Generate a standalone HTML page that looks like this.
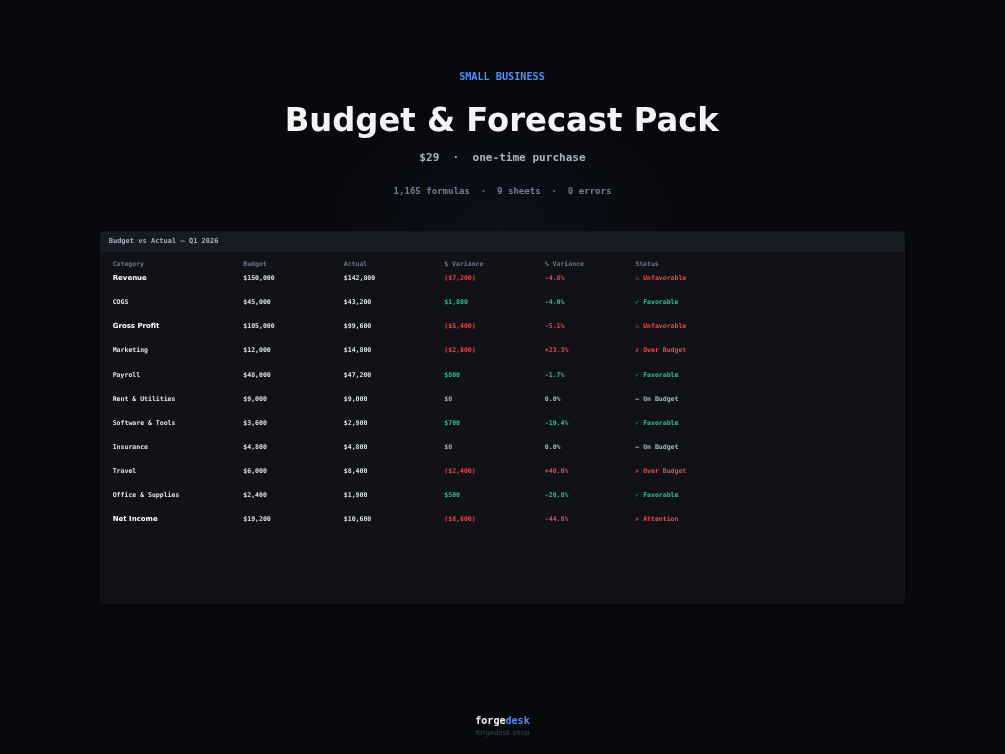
<!DOCTYPE html>
<html lang="en"><head><meta charset="utf-8"><title>Budget &amp; Forecast Pack</title>
<style>
*{margin:0;padding:0;box-sizing:border-box}
html,body{width:1005px;height:754px;overflow:hidden;background:#08090d}
body{position:relative;font-family:"DejaVu Sans Mono","Liberation Mono",monospace;color:#e5e7eb;
 background:radial-gradient(ellipse 180px 125px at 502px 226px,rgba(59,130,246,.06),rgba(59,130,246,0) 100%),#08090d}
.t{position:absolute;white-space:pre;line-height:1;transform:translateY(-50%)}
.c{position:absolute;left:0;width:1005px;text-align:center;white-space:pre;line-height:1;transform:translateY(-50%)}
.eyebrow{top:77.2px;left:-0.5px;font-size:10.18px;font-weight:700;color:#4f8ff7}
h1.c{top:120.3px;transform:translateY(-50%) scaleY(1.02);text-rendering:geometricPrecision;left:-0.8px;font-family:"DejaVu Sans","Liberation Sans",sans-serif;font-weight:700;font-size:32.25px;color:#f4f4f6;letter-spacing:0}
.sub{top:158.2px;font-size:11.05px;font-weight:700;color:#aab3c5}
.stats{top:192.2px;font-size:9.05px;font-weight:700;color:#717d98}
.card{position:absolute;left:100px;top:230.5px;width:805px;height:373.5px;background:#111217;border:1px solid #16181e;border-radius:5px}
.bar{position:absolute;left:0;top:0;right:0;height:20.3px;background:#191b24}
.hd{font-size:7.03px;font-weight:700;color:#a3adc1;left:108.7px;top:240.5px}
.th{font-size:6.5px;font-weight:700;color:#6a758f}
.td{font-size:6.52px;color:#dfe3ea;font-weight:700}
.b{font-family:"DejaVu Sans","Liberation Sans",sans-serif;font-weight:700;font-size:7.0px;color:#fff}
.r{color:#ea4a4b}.g{color:#2fc18c}.n{color:#a9b3c6}
.ln{position:absolute;left:108.5px;width:789px;height:1px;background:#14161b}
.brand{top:720.5px;font-size:10.05px;font-weight:700;color:#f4f4f6}
.brand b{color:#4f8ff7}
.url{top:733.4px;font-family:"DejaVu Sans","Liberation Sans",sans-serif;font-size:7.0px;color:#3b4456}
</style></head><body>
<div class="c eyebrow">SMALL BUSINESS</div>
<h1 class="c">Budget &amp; Forecast Pack</h1>
<div class="c sub">$29  ·  one-time purchase</div>
<div class="c stats">1,165 formulas  ·  9 sheets  ·  0 errors</div>
<div class="card"><div class="bar"></div></div>
<div class="t hd">Budget vs Actual — Q1 2026</div>

<div class="t th" style="left:112.7px;top:263.6px">Category</div>
<div class="t th" style="left:243.3px;top:263.6px">Budget</div>
<div class="t th" style="left:343.8px;top:263.6px">Actual</div>
<div class="t th" style="left:444.3px;top:263.6px">$ Variance</div>
<div class="t th" style="left:544.8px;top:263.6px">% Variance</div>
<div class="t th" style="left:635.3px;top:263.6px">Status</div>
<div class="t td b" style="left:112.7px;top:277.6px">Revenue</div>
<div class="t td" style="left:243.3px;top:277.6px">$150,000</div>
<div class="t td" style="left:343.8px;top:277.6px">$142,800</div>
<div class="t td r" style="left:444.3px;top:277.6px">($7,200)</div>
<div class="t td r" style="left:544.8px;top:277.6px">-4.8%</div>
<div class="t td r" style="left:635.3px;top:277.6px">⚠ Unfavorable</div>
<div class="ln" style="top:293.0px"></div>
<div class="t td" style="left:112.7px;top:301.74px">COGS</div>
<div class="t td" style="left:243.3px;top:301.74px">$45,000</div>
<div class="t td" style="left:343.8px;top:301.74px">$43,200</div>
<div class="t td g" style="left:444.3px;top:301.74px">$1,800</div>
<div class="t td g" style="left:544.8px;top:301.74px">-4.0%</div>
<div class="t td g" style="left:635.3px;top:301.74px">✓ Favorable</div>
<div class="t td b" style="left:112.7px;top:325.88px">Gross Profit</div>
<div class="t td" style="left:243.3px;top:325.88px">$105,000</div>
<div class="t td" style="left:343.8px;top:325.88px">$99,600</div>
<div class="t td r" style="left:444.3px;top:325.88px">($5,400)</div>
<div class="t td r" style="left:544.8px;top:325.88px">-5.1%</div>
<div class="t td r" style="left:635.3px;top:325.88px">⚠ Unfavorable</div>
<div class="ln" style="top:341.3px"></div>
<div class="t td" style="left:112.7px;top:350.02px">Marketing</div>
<div class="t td" style="left:243.3px;top:350.02px">$12,000</div>
<div class="t td" style="left:343.8px;top:350.02px">$14,800</div>
<div class="t td r" style="left:444.3px;top:350.02px">($2,800)</div>
<div class="t td r" style="left:544.8px;top:350.02px">+23.3%</div>
<div class="t td r" style="left:635.3px;top:350.02px">✗ Over Budget</div>
<div class="t td" style="left:112.7px;top:374.76px">Payroll</div>
<div class="t td" style="left:243.3px;top:374.76px">$48,000</div>
<div class="t td" style="left:343.8px;top:374.76px">$47,200</div>
<div class="t td g" style="left:444.3px;top:374.76px">$800</div>
<div class="t td g" style="left:544.8px;top:374.76px">-1.7%</div>
<div class="t td g" style="left:635.3px;top:374.76px">✓ Favorable</div>
<div class="t td" style="left:112.7px;top:398.9px">Rent &amp; Utilities</div>
<div class="t td" style="left:243.3px;top:398.9px">$9,000</div>
<div class="t td" style="left:343.8px;top:398.9px">$9,000</div>
<div class="t td n" style="left:444.3px;top:398.9px">$0</div>
<div class="t td n" style="left:544.8px;top:398.9px">0.0%</div>
<div class="t td n" style="left:635.3px;top:398.9px">— On Budget</div>
<div class="t td" style="left:112.7px;top:422.84px">Software &amp; Tools</div>
<div class="t td" style="left:243.3px;top:422.84px">$3,600</div>
<div class="t td" style="left:343.8px;top:422.84px">$2,900</div>
<div class="t td g" style="left:444.3px;top:422.84px">$700</div>
<div class="t td g" style="left:544.8px;top:422.84px">-19.4%</div>
<div class="t td g" style="left:635.3px;top:422.84px">✓ Favorable</div>
<div class="t td" style="left:112.7px;top:446.58px">Insurance</div>
<div class="t td" style="left:243.3px;top:446.58px">$4,800</div>
<div class="t td" style="left:343.8px;top:446.58px">$4,800</div>
<div class="t td n" style="left:444.3px;top:446.58px">$0</div>
<div class="t td n" style="left:544.8px;top:446.58px">0.0%</div>
<div class="t td n" style="left:635.3px;top:446.58px">— On Budget</div>
<div class="t td" style="left:112.7px;top:470.72px">Travel</div>
<div class="t td" style="left:243.3px;top:470.72px">$6,000</div>
<div class="t td" style="left:343.8px;top:470.72px">$8,400</div>
<div class="t td r" style="left:444.3px;top:470.72px">($2,400)</div>
<div class="t td r" style="left:544.8px;top:470.72px">+40.0%</div>
<div class="t td r" style="left:635.3px;top:470.72px">✗ Over Budget</div>
<div class="t td" style="left:112.7px;top:494.86px">Office &amp; Supplies</div>
<div class="t td" style="left:243.3px;top:494.86px">$2,400</div>
<div class="t td" style="left:343.8px;top:494.86px">$1,900</div>
<div class="t td g" style="left:444.3px;top:494.86px">$500</div>
<div class="t td g" style="left:544.8px;top:494.86px">-20.8%</div>
<div class="t td g" style="left:635.3px;top:494.86px">✓ Favorable</div>
<div class="t td b" style="left:112.7px;top:519.0px">Net Income</div>
<div class="t td" style="left:243.3px;top:519.0px">$19,200</div>
<div class="t td" style="left:343.8px;top:519.0px">$10,600</div>
<div class="t td r" style="left:444.3px;top:519.0px">($8,600)</div>
<div class="t td r" style="left:544.8px;top:519.0px">-44.8%</div>
<div class="t td r" style="left:635.3px;top:519.0px">✗ Attention</div>
<div class="c brand">forge<b>desk</b></div>
<div class="c url">forgedesk.shop</div>
</body></html>
